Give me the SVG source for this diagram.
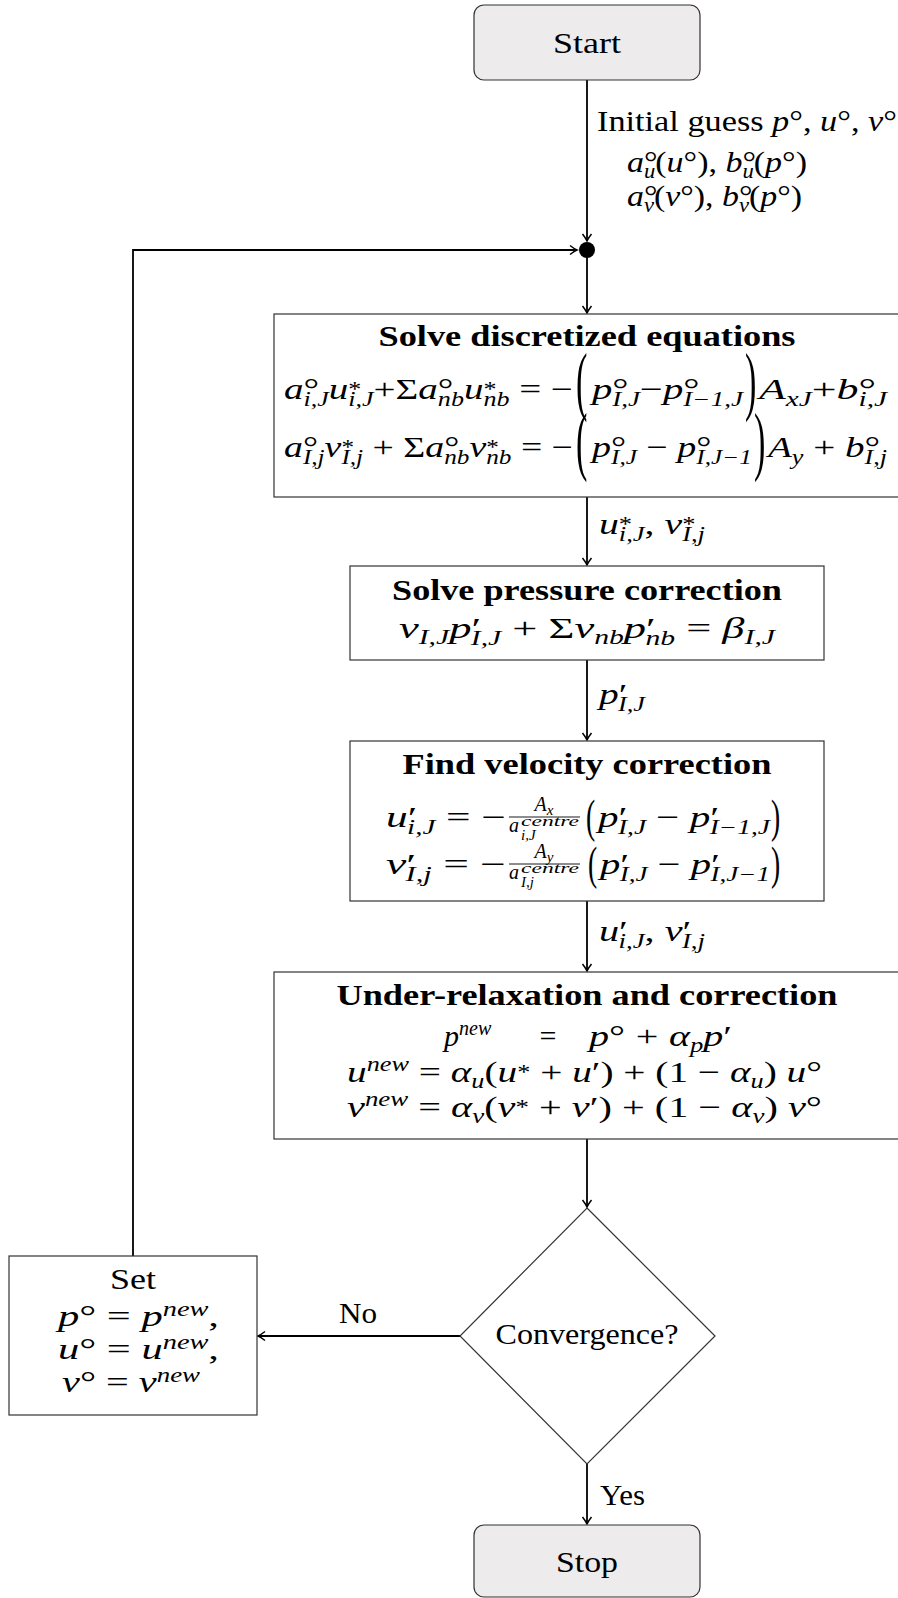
<svg xmlns="http://www.w3.org/2000/svg" width="898" height="1598" viewBox="0 0 898 1598">
<style>
.t{font-family:"Liberation Serif","Times New Roman",serif;font-size:30px;fill:#000}
.b{font-weight:bold}
.i{font-style:italic}
.s{font-size:20px}
.ss{font-size:15px}
.box{fill:#fff;stroke:#333;stroke-width:1.2}
.term{fill:#edebec;stroke:#333;stroke-width:1.2}
.c{fill:none;stroke:#000;stroke-width:1.8}
.bar{stroke:#000;stroke-width:0.9}
</style>
<defs>
<marker id="ah" markerUnits="userSpaceOnUse" markerWidth="12" markerHeight="12" viewBox="-8 -6 10 12" refX="0" refY="0" orient="auto">
<path d="M-7,-4.5 Q-2.5,-1 0,0 Q-2.5,1 -7,4.5" fill="none" stroke="#000" stroke-width="1.5"/>
</marker>
</defs>

<g id="connectors">
<path class="c" d="M587,80 V241" marker-end="url(#ah)"/>
<path class="c" d="M133,1256 V250 H577" marker-end="url(#ah)"/>
<path class="c" d="M587,250 V313" marker-end="url(#ah)"/>
<path class="c" d="M587,497 V565" marker-end="url(#ah)"/>
<path class="c" d="M587,660 V740" marker-end="url(#ah)"/>
<path class="c" d="M587,901 V971" marker-end="url(#ah)"/>
<path class="c" d="M587,1139 V1207" marker-end="url(#ah)"/>
<path class="c" d="M460,1336 H258" marker-end="url(#ah)"/>
<path class="c" d="M587,1464 V1524" marker-end="url(#ah)"/>
<circle cx="587" cy="250" r="8" fill="#000"/>
<text class="t" x="597" y="131" textLength="300" lengthAdjust="spacingAndGlyphs">Initial guess <tspan class="i">p</tspan>°, <tspan class="i">u</tspan>°, <tspan class="i">v</tspan>°</text>
<text class="t" x="627" y="172" textLength="180" lengthAdjust="spacingAndGlyphs"><tspan class="i">a</tspan>°<tspan class="s i" dx="-12" dy="6">u</tspan><tspan dy="-6">(</tspan><tspan class="i">u</tspan>°), <tspan class="i">b</tspan>°<tspan class="s i" dx="-12" dy="6">u</tspan><tspan dy="-6">(</tspan><tspan class="i">p</tspan>°)</text>
<text class="t" x="627" y="206" textLength="175" lengthAdjust="spacingAndGlyphs"><tspan class="i">a</tspan>°<tspan class="s i" dx="-12" dy="6">v</tspan><tspan dy="-6">(</tspan><tspan class="i">v</tspan>°), <tspan class="i">b</tspan>°<tspan class="s i" dx="-12" dy="6">v</tspan><tspan dy="-6">(</tspan><tspan class="i">p</tspan>°)</text>
<text class="t" x="599" y="534" textLength="106" lengthAdjust="spacingAndGlyphs"><tspan class="i">u</tspan><tspan class="s" dy="-3">*</tspan><tspan class="s i" dx="-10" dy="10">i,J</tspan><tspan dy="-7">, </tspan><tspan class="i">v</tspan><tspan class="s" dy="-3">*</tspan><tspan class="s i" dx="-10" dy="10">I,j</tspan></text>
<text class="t" x="599" y="704" textLength="46" lengthAdjust="spacingAndGlyphs"><tspan class="i">p</tspan>′<tspan class="s i" dx="-7" dy="7">I,J</tspan></text>
<text class="t" x="599" y="941" textLength="106" lengthAdjust="spacingAndGlyphs"><tspan class="i">u</tspan>′<tspan class="s i" dx="-7" dy="7">i,J</tspan><tspan dy="-7">, </tspan><tspan class="i">v</tspan>′<tspan class="s i" dx="-7" dy="7">I,j</tspan></text>
<text class="t" x="358" y="1323" text-anchor="middle" textLength="38" lengthAdjust="spacingAndGlyphs">No</text>
<text class="t" x="600" y="1505" textLength="45" lengthAdjust="spacingAndGlyphs">Yes</text>
</g>

<g id="start">
<rect class="term" x="474" y="5" width="226" height="75" rx="10"/>
<text class="t" x="587" y="53" text-anchor="middle" textLength="68" lengthAdjust="spacingAndGlyphs">Start</text>
</g>

<g id="solve-discretized">
<rect class="box" x="274" y="314" width="626" height="183"/>
<text class="t b" x="587" y="346" text-anchor="middle" textLength="417" lengthAdjust="spacingAndGlyphs">Solve discretized equations</text>
<text class="t" x="284" y="399" textLength="289" lengthAdjust="spacingAndGlyphs"><tspan class="i">a</tspan>°<tspan class="s i" dx="-12" dy="7">i,J</tspan><tspan class="i" dy="-7">u</tspan><tspan class="s" dy="-3">*</tspan><tspan class="s i" dx="-10" dy="10">i,J</tspan><tspan dy="-7">+Σ</tspan><tspan class="i">a</tspan>°<tspan class="s i" dx="-12" dy="7">nb</tspan><tspan class="i" dy="-7">u</tspan><tspan class="s" dy="-3">*</tspan><tspan class="s i" dx="-10" dy="10">nb</tspan><tspan dy="-7"> = −</tspan></text>
<text class="t" transform="translate(576,406) scale(0.45,1)" style="font-size:76px">(</text>
<text class="t" x="592" y="399" textLength="151" lengthAdjust="spacingAndGlyphs"><tspan class="i">p</tspan>°<tspan class="s i" dx="-12" dy="7">I,J</tspan><tspan dy="-7">−</tspan><tspan class="i">p</tspan>°<tspan class="s i" dx="-12" dy="7">I−1,J</tspan></text>
<text class="t" transform="translate(745,406) scale(0.45,1)" style="font-size:76px">)</text>
<text class="t" x="759" y="399" textLength="128" lengthAdjust="spacingAndGlyphs"><tspan class="i">A</tspan><tspan class="s i" dy="7">xJ</tspan><tspan dy="-7">+</tspan><tspan class="i">b</tspan>°<tspan class="s i" dx="-12" dy="7">i,J</tspan></text>
<text class="t" x="284" y="457" textLength="289" lengthAdjust="spacingAndGlyphs"><tspan class="i">a</tspan>°<tspan class="s i" dx="-12" dy="7">I,j</tspan><tspan class="i" dy="-7">v</tspan><tspan class="s" dy="-3">*</tspan><tspan class="s i" dx="-10" dy="10">I,j</tspan><tspan dy="-7"> + Σ</tspan><tspan class="i">a</tspan>°<tspan class="s i" dx="-12" dy="7">nb</tspan><tspan class="i" dy="-7">v</tspan><tspan class="s" dy="-3">*</tspan><tspan class="s i" dx="-10" dy="10">nb</tspan><tspan dy="-7"> = −</tspan></text>
<text class="t" transform="translate(576,466) scale(0.45,1)" style="font-size:76px">(</text>
<text class="t" x="592" y="457" textLength="160" lengthAdjust="spacingAndGlyphs"><tspan class="i">p</tspan>°<tspan class="s i" dx="-12" dy="7">I,J</tspan><tspan dy="-7"> − </tspan><tspan class="i">p</tspan>°<tspan class="s i" dx="-12" dy="7">I,J−1</tspan></text>
<text class="t" transform="translate(754,466) scale(0.45,1)" style="font-size:76px">)</text>
<text class="t" x="768" y="457" textLength="119" lengthAdjust="spacingAndGlyphs"><tspan class="i">A</tspan><tspan class="s i" dy="7">y</tspan><tspan dy="-7"> + </tspan><tspan class="i">b</tspan>°<tspan class="s i" dx="-12" dy="7">I,j</tspan></text>
</g>

<g id="solve-pressure">
<rect class="box" x="350" y="566" width="474" height="94"/>
<text class="t b" x="587" y="600" text-anchor="middle" textLength="390" lengthAdjust="spacingAndGlyphs">Solve pressure correction</text>
<text class="t" x="399" y="638" textLength="376" lengthAdjust="spacingAndGlyphs"><tspan class="i">ν</tspan><tspan class="s i" dy="6">I,J</tspan><tspan class="i" dy="-6">p</tspan>′<tspan class="s i" dx="-7" dy="7">I,J</tspan><tspan dy="-7"> + Σ</tspan><tspan class="i">ν</tspan><tspan class="s i" dy="6">nb</tspan><tspan class="i" dy="-6">p</tspan>′<tspan class="s i" dx="-7" dy="7">nb</tspan><tspan dy="-7">  =  </tspan><tspan class="i">β</tspan><tspan class="s i" dy="6">I,J</tspan></text>
</g>

<g id="find-velocity">
<rect class="box" x="350" y="741" width="474" height="160"/>
<text class="t b" x="587" y="774" text-anchor="middle" textLength="369" lengthAdjust="spacingAndGlyphs">Find velocity correction</text>
<text class="t" x="386" y="827" textLength="120" lengthAdjust="spacingAndGlyphs"><tspan class="i">u</tspan>′<tspan class="s i" dx="-7" dy="7">i,J</tspan><tspan dy="-7"> = −</tspan></text>
<text class="t s" x="544" y="811" text-anchor="middle"><tspan class="i">A</tspan><tspan class="ss i" dy="4">x</tspan></text>
<line class="bar" x1="509" y1="817" x2="580" y2="817"/>
<text class="t s i" x="509" y="832">a</text>
<text class="t ss i" x="521" y="826" textLength="58" lengthAdjust="spacingAndGlyphs">centre</text>
<text class="t ss i" x="521" y="840">i,J</text>
<text class="t" transform="translate(586,832) scale(0.6,1)" style="font-size:46px">(</text>
<text class="t" x="598" y="827" textLength="172" lengthAdjust="spacingAndGlyphs"><tspan class="i">p</tspan>′<tspan class="s i" dx="-7" dy="7">I,J</tspan><tspan dy="-7"> − </tspan><tspan class="i">p</tspan>′<tspan class="s i" dx="-7" dy="7">I−1,J</tspan></text>
<text class="t" transform="translate(771,832) scale(0.6,1)" style="font-size:46px">)</text>
<text class="t" x="386" y="874" textLength="120" lengthAdjust="spacingAndGlyphs"><tspan class="i">v</tspan>′<tspan class="s i" dx="-7" dy="7">I,j</tspan><tspan dy="-7"> = −</tspan></text>
<text class="t s" x="544" y="858" text-anchor="middle"><tspan class="i">A</tspan><tspan class="ss i" dy="4">y</tspan></text>
<line class="bar" x1="509" y1="864" x2="580" y2="864"/>
<text class="t s i" x="509" y="879">a</text>
<text class="t ss i" x="521" y="873" textLength="58" lengthAdjust="spacingAndGlyphs">centre</text>
<text class="t ss i" x="521" y="887">I,j</text>
<text class="t" transform="translate(588,879) scale(0.6,1)" style="font-size:46px">(</text>
<text class="t" x="600" y="874" textLength="170" lengthAdjust="spacingAndGlyphs"><tspan class="i">p</tspan>′<tspan class="s i" dx="-7" dy="7">I,J</tspan><tspan dy="-7"> − </tspan><tspan class="i">p</tspan>′<tspan class="s i" dx="-7" dy="7">I,J−1</tspan></text>
<text class="t" transform="translate(771,879) scale(0.6,1)" style="font-size:46px">)</text>
</g>

<g id="under-relaxation">
<rect class="box" x="274" y="972" width="626" height="167"/>
<text class="t b" x="587" y="1005" text-anchor="middle" textLength="501" lengthAdjust="spacingAndGlyphs">Under-relaxation and correction</text>
<text class="t" x="444" y="1046"><tspan class="i">p</tspan><tspan class="s i" dy="-11">new</tspan></text>
<text class="t" x="548" y="1046" text-anchor="middle">=</text>
<text class="t" x="589" y="1046" textLength="143" lengthAdjust="spacingAndGlyphs"><tspan class="i">p</tspan>°<tspan dx="8">+</tspan><tspan class="i" dx="8">α</tspan><tspan class="s i" dy="6">p</tspan><tspan class="i" dy="-6">p</tspan>′</text>
<text class="t" x="347" y="1082" textLength="475" lengthAdjust="spacingAndGlyphs"><tspan class="i">u</tspan><tspan class="s i" dy="-11">new</tspan><tspan dy="11">  =  </tspan><tspan class="i">α</tspan><tspan class="s i" dy="6">u</tspan><tspan dy="-6">(</tspan><tspan class="i">u</tspan><tspan class="s" dy="-3">*</tspan><tspan dy="3"> + </tspan><tspan class="i">u</tspan>′) + (1 − <tspan class="i">α</tspan><tspan class="s i" dy="6">u</tspan><tspan dy="-6">) </tspan><tspan class="i">u</tspan>°</text>
<text class="t" x="347" y="1117" textLength="475" lengthAdjust="spacingAndGlyphs"><tspan class="i">v</tspan><tspan class="s i" dy="-11">new</tspan><tspan dy="11">  =  </tspan><tspan class="i">α</tspan><tspan class="s i" dy="6">v</tspan><tspan dy="-6">(</tspan><tspan class="i">v</tspan><tspan class="s" dy="-3">*</tspan><tspan dy="3"> + </tspan><tspan class="i">v</tspan>′) + (1 − <tspan class="i">α</tspan><tspan class="s i" dy="6">v</tspan><tspan dy="-6">) </tspan><tspan class="i">v</tspan>°</text>
</g>

<g id="convergence">
<polygon class="box" points="587,1208 715,1336 587,1464 460,1336"/>
<text class="t" x="587" y="1344" text-anchor="middle" textLength="183" lengthAdjust="spacingAndGlyphs">Convergence?</text>
</g>

<g id="set">
<rect class="box" x="9" y="1256" width="248" height="159"/>
<text class="t" x="133" y="1289" text-anchor="middle" textLength="46" lengthAdjust="spacingAndGlyphs">Set</text>
<text class="t" x="58" y="1326" textLength="161" lengthAdjust="spacingAndGlyphs"><tspan class="i">p</tspan>°  =  <tspan class="i">p</tspan><tspan class="s i" dy="-10">new</tspan><tspan dy="10">,</tspan></text>
<text class="t" x="58" y="1359" textLength="161" lengthAdjust="spacingAndGlyphs"><tspan class="i">u</tspan>°  =  <tspan class="i">u</tspan><tspan class="s i" dy="-10">new</tspan><tspan dy="10">,</tspan></text>
<text class="t" x="62" y="1392" textLength="138" lengthAdjust="spacingAndGlyphs"><tspan class="i">v</tspan>°  =  <tspan class="i">v</tspan><tspan class="s i" dy="-10">new</tspan></text>
</g>

<g id="stop">
<rect class="term" x="474" y="1525" width="226" height="72" rx="10"/>
<text class="t" x="587" y="1572" text-anchor="middle" textLength="62" lengthAdjust="spacingAndGlyphs">Stop</text>
</g>
</svg>
